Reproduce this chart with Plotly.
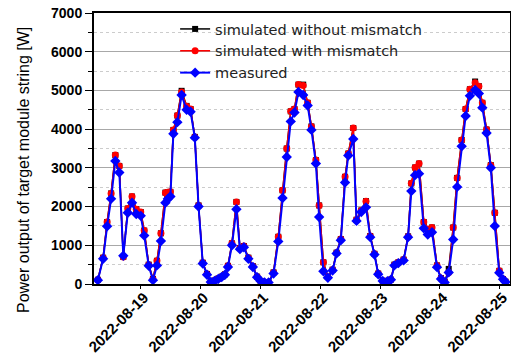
import pandas as pd
import plotly.graph_objects as go

# time offsets (hours since 2022-08-18 00:00)
hours = [6.7, 8.8, 10.4, 12.0, 13.7, 15.3, 16.9, 18.7, 20.4, 22.1,
         23.9, 25.3, 27.1, 28.8, 30.4, 32.0, 33.8, 34.8, 35.8, 37.0,
         38.6, 40.3, 42.3, 43.9, 45.6, 47.1, 48.8, 50.5, 52.0, 53.5,
         55.0, 56.4, 57.7, 58.9, 60.5, 62.3, 63.7, 65.3, 67.1, 68.9,
         70.6, 72.0, 73.6, 75.2, 77.2, 79.1, 80.8, 82.5, 84.1, 85.6,
         87.2, 89.1, 90.9, 92.4, 94.2, 95.5, 97.2, 99.0, 100.9, 102.5,
         104.2, 105.9, 107.2, 109.2, 110.5, 112.4, 114.3, 116.0, 117.7, 119.2,
         121.0, 122.9, 124.3, 125.7, 127.3, 129.4, 131.2, 132.5, 134.0, 135.6,
         137.5, 139.1, 140.8, 142.8, 144.4, 145.9, 147.5, 149.3, 150.9, 152.7,
         154.3, 156.0, 158.1, 159.6, 161.0, 162.7, 164.4, 166.0, 167.8, 169.3,
         170.3]

measured = [100, 650, 1490, 2200, 3180, 2880, 730, 1840, 2100, 1810,
            1760, 1250, 470, 100, 480, 1110, 2100, 2200, 2260, 3880,
            4180, 4880, 4500, 4450, 3780, 2000, 530, 240, 50, 80,
            130, 180, 240, 440, 1000, 1930, 900, 950, 650, 440,
            175, 78, 40, 40, 270, 1100, 2220, 3280, 4200, 4430,
            4960, 4880, 4610, 3980, 3110, 1730, 330, 160, 350, 790,
            1130, 2620, 3320, 3745, 1630, 1857, 1980, 1210, 760, 253,
            78, 70, 110, 480, 540, 610, 1210, 2400, 2812, 2850,
            1440, 1280, 1336, 435, 130, 40, 300, 1150, 2508, 3560,
            4340, 4860, 5010, 4920, 4555, 3900, 3000, 1500, 290, 120,
            50]

sim_with = [110, 680, 1600, 2340, 3330, 3050, 700, 1950, 2260, 1930,
            1860, 1380, 500, 130, 600, 1310, 2360, 2370, 2380, 3980,
            4350, 4960, 4590, 4520, 3800, 2030, 550, 260, 60, 90,
            140, 190, 250, 470, 1050, 2120, 930, 980, 680, 460,
            190, 80, 45, 45, 300, 1220, 2420, 3500, 4460, 4520,
            5150, 5130, 4680, 4070, 3200, 2030, 560, 180, 370, 810,
            1160, 2770, 3370, 4030, 1660, 1900, 2140, 1240, 780, 270,
            85, 75, 115, 500, 560, 630, 1230, 2600, 3010, 3110,
            1600, 1420, 1460, 480, 150, 60, 300, 1460, 2740, 3720,
            4520, 5030, 5200, 5110, 4680, 3990, 3070, 1840, 340, 130,
            60]

sim_without = [110, 680, 1600, 2340, 3330, 3050, 700, 1950, 2260, 1930,
               1860, 1380, 500, 130, 600, 1310, 2360, 2370, 2380, 3980,
               4350, 4990, 4600, 4520, 3800, 2030, 550, 260, 60, 90,
               140, 190, 250, 470, 1050, 2120, 930, 980, 680, 460,
               190, 80, 45, 45, 300, 1220, 2420, 3500, 4460, 4520,
               5150, 5150, 4680, 4070, 3200, 2030, 560, 180, 370, 810,
               1160, 2770, 3370, 4030, 1660, 1900, 2140, 1240, 780, 270,
               85, 75, 115, 500, 560, 630, 1230, 2600, 3010, 3110,
               1600, 1420, 1460, 480, 150, 60, 390, 1460, 2740, 3720,
               4520, 5030, 5230, 5110, 4680, 3990, 3070, 1840, 340, 130,
               60]

tick_dates = ["2022-08-19", "2022-08-20", "2022-08-21", "2022-08-22",
              "2022-08-23", "2022-08-24", "2022-08-25"]
y_ticks = [0, 1000, 2000, 3000, 4000, 5000, 6000, 7000]
y_title = "Power output of target module string [W]"

start = pd.Timestamp("2022-08-18")
x = [start + pd.Timedelta(hours=h) for h in hours]

fig = go.Figure()
fig.add_trace(go.Scatter(x=x, y=sim_without, mode="lines+markers",
                         name="simulated without mismatch",
                         line=dict(color="black", width=1.5),
                         marker=dict(symbol="square", size=6, color="black")))
fig.add_trace(go.Scatter(x=x, y=sim_with, mode="lines+markers",
                         name="simulated with mismatch",
                         line=dict(color="red", width=1.5),
                         marker=dict(symbol="circle", size=7, color="red")))
fig.add_trace(go.Scatter(x=x, y=measured, mode="lines+markers",
                         name="measured",
                         line=dict(color="blue", width=2),
                         marker=dict(symbol="diamond", size=8, color="blue")))

# white box behind the legend (hides gridlines like in the original)
fig.add_shape(type="rect", xref="paper", yref="paper",
              x0=0.147, x1=0.825, y0=0.748, y1=1.0,
              fillcolor="white", line=dict(width=0), layer="below")

fig.add_annotation(text=y_title, textangle=-90, xref="paper", yref="paper",
                   x=-0.171, y=0.42, xanchor="center", yanchor="middle",
                   showarrow=False,
                   font=dict(size=16, family="Liberation Sans, Arial", color="black"))

fig.update_layout(
    width=511, height=354,
    margin=dict(l=94, r=1, t=13, b=70, autoexpand=False),
    paper_bgcolor="white", plot_bgcolor="white",
    font=dict(family="Liberation Sans, Arial, sans-serif", color="black"),
    showlegend=True,
    legend=dict(x=0.195, y=1.0, xanchor="left", yanchor="top",
                bgcolor="rgba(255,255,255,0)",
                font=dict(size=14.5, family="DejaVu Sans", color="#222"),
                tracegroupgap=0, itemwidth=30),
)

fig.update_xaxes(
    type="date", automargin=False,
    range=[start + pd.Timedelta(hours=5.14), start + pd.Timedelta(hours=172.1)],
    tickvals=tick_dates, tickformat="%Y-%m-%d", tickangle=-45,
    tickfont=dict(size=15, family="Liberation Sans, Arial", weight="bold"),
    ticklabelshift=3, ticklabelstandoff=-6, ticklabeloverflow="allow",
    showgrid=False, showline=True, linecolor="black", linewidth=2,
    mirror=True, ticks="outside", ticklen=3, tickcolor="black",
    zeroline=False,
)
fig.update_yaxes(
    range=[0, 7000], tickvals=y_ticks, automargin=False,
    tickfont=dict(size=14, family="Liberation Sans, Arial", weight="bold"),
    showgrid=True, gridcolor="#a8a8a8", gridwidth=1,
    minor=dict(dtick=500, showgrid=True, gridcolor="#cccccc", griddash="dot",
               ticks="outside", ticklen=4, tickcolor="black"),
    showline=True, linecolor="black", linewidth=2, mirror=True,
    ticks="outside", ticklen=7, tickcolor="black",
    zeroline=False,
)

fig.write_html("out.html")
